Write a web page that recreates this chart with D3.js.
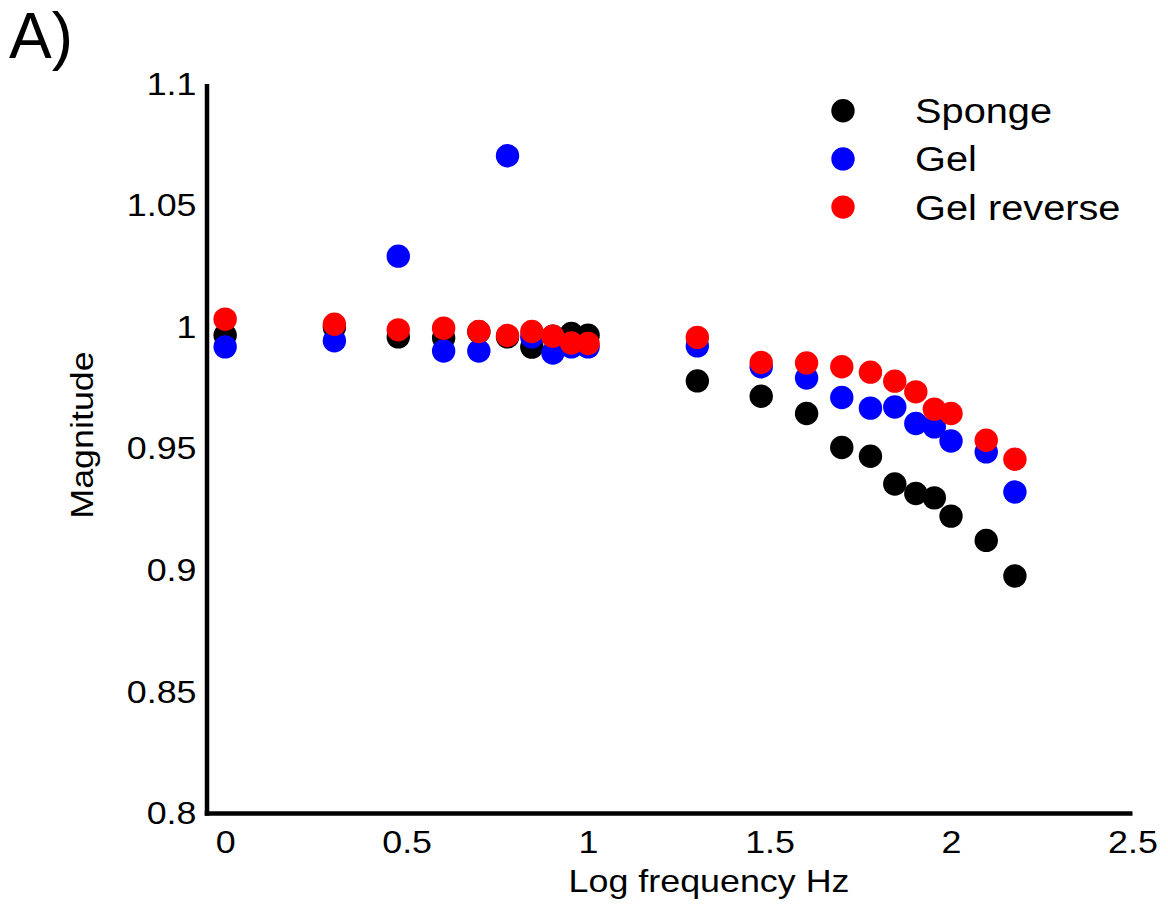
<!DOCTYPE html>
<html>
<head>
<meta charset="utf-8">
<script src="https://cdn.jsdelivr.net/npm/d3@7"></script>
<style>
  html, body { margin: 0; padding: 0; background: #fff; }
  svg { display: block; font-family: "Liberation Sans", Arial, sans-serif; }
</style>
</head>
<body>
<svg id="chart" width="1168" height="912"></svg>
<script>
// ---- data ----
const logFreq = [0, 0.301, 0.477, 0.602, 0.699, 0.778, 0.845, 0.903, 0.954, 1,
                 1.301, 1.477, 1.602, 1.699, 1.778, 1.845, 1.903, 1.954, 2, 2.097, 2.176];
const sponge = [0.9967, 1.0000, 0.9960, 0.9955, 0.9981, 0.9960, 0.9918, 0.9963, 0.9974, 0.9967,
                0.9779, 0.9716, 0.9645, 0.9505, 0.9469, 0.9355, 0.9316, 0.9298, 0.9223, 0.9123, 0.8977];
const gel = [0.9919, 0.9944, 1.0292, 0.9902, 0.9902, 1.0705, 0.9960, 0.9894, 0.9919, 0.9919,
             0.9923, 0.9837, 0.9791, 0.9711, 0.9667, 0.9672, 0.9604, 0.9590, 0.9532, 0.9487, 0.9322];
const gelReverse = [1.0033, 1.0012, 0.9989, 0.9996, 0.9982, 0.9966, 0.9982, 0.9963, 0.9935, 0.9933,
                    0.9958, 0.9855, 0.9853, 0.9837, 0.9815, 0.9778, 0.9734, 0.9663, 0.9645, 0.9535, 0.9457];
const seriesNames = ["Sponge", "Gel", "Gel reverse"];
const seriesColors = ["#000000", "#0000ff", "#ff0000"];
const xTicks = [0, 0.5, 1, 1.5, 2, 2.5];
const xTickLabels = ["0", "0.5", "1", "1.5", "2", "2.5"];
const yTicks = [0.8, 0.85, 0.9, 0.95, 1, 1.05, 1.1];
const yTickLabels = ["0.8", "0.85", "0.9", "0.95", "1", "1.05", "1.1"];

// ---- chart ----
const FONT = "Liberation Sans, Arial, sans-serif";
const SX = 1.12; // horizontal text stretch seen in the reference
const svg = d3.select("#chart");
const x = d3.scaleLinear().domain([-0.05, 2.5]).range([207, 1132.5]);
const y = d3.scaleLinear().domain([0.8, 1.1]).range([813.5, 84]);

const xAxis = d3.axisBottom(x).tickValues(xTicks)
  .tickFormat((d, i) => xTickLabels[i]).tickSizeInner(0).tickSizeOuter(0).tickPadding(17);
const gx = svg.append("g").attr("transform", `translate(0,${y.range()[0]})`).call(xAxis);
gx.select(".domain").attr("stroke", "#000").attr("stroke-width", 4.5)
  .attr("d", `M${x.range()[0] - 2.25},0H${x.range()[1]}`);
gx.selectAll("text").attr("font-size", 32).attr("fill", "#000").attr("font-family", FONT)
  .attr("transform", `scale(${SX},1)`);

const yAxis = d3.axisLeft(y).tickValues(yTicks)
  .tickFormat((d, i) => yTickLabels[i]).tickSizeInner(0).tickSizeOuter(0).tickPadding(10);
const gy = svg.append("g").attr("transform", `translate(${x.range()[0]},0)`).call(yAxis);
gy.select(".domain").attr("stroke", "#000").attr("stroke-width", 4.5)
  .attr("d", `M0,${y.range()[1]}V${y.range()[0] + 2.25}`);
gy.selectAll("text").attr("font-size", 32).attr("fill", "#000").attr("font-family", FONT)
  .attr("x", -10.5 / SX).attr("transform", `scale(${SX},1)`);

// axis titles
svg.append("text").attr("transform", `translate(709,892) scale(${SX},1)`).attr("text-anchor", "middle")
  .attr("font-size", 32).text("Log frequency Hz");
svg.append("text").attr("transform", `translate(93,435) rotate(-90) scale(${SX},1)`).attr("text-anchor", "middle")
  .attr("font-size", 32).text("Magnitude");
svg.append("text").attr("x", 9).attr("y", 58).attr("font-size", 64).text("A)");

// points
const allSeries = [sponge, gel, gelReverse];
allSeries.forEach((vals, si) => {
  svg.append("g").selectAll("circle").data(vals).join("circle")
    .attr("cx", (d, i) => x(logFreq[i]))
    .attr("cy", d => y(d))
    .attr("r", 11.7)
    .attr("fill", seriesColors[si]);
});

// legend
const legend = svg.append("g");
seriesNames.forEach((name, i) => {
  const cy = 110.7 + i * 48.2;
  legend.append("circle").attr("cx", 843).attr("cy", cy).attr("r", 11.7).attr("fill", seriesColors[i]);
  legend.append("text").attr("transform", `translate(915,${cy}) scale(${SX},1)`).attr("dy", "0.35em")
    .attr("font-size", 35.5).text(name);
});
</script>
</body>
</html>
